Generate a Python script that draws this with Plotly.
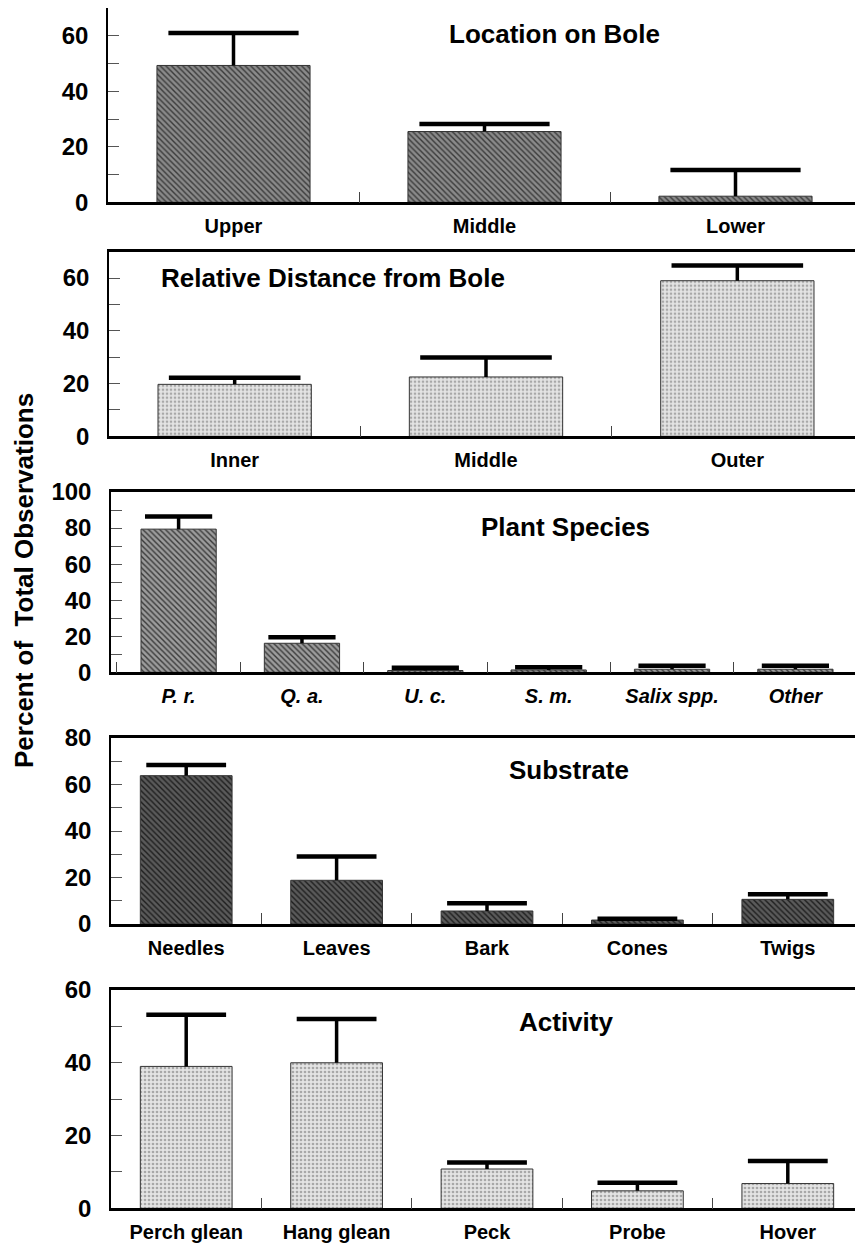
import plotly.graph_objects as go

# ---------------- data ----------------
bole_cats = ["Upper", "Middle", "Lower"]
bole_vals = [49.3, 25.5, 2.2]
bole_err = [11.7, 2.7, 9.4]

dist_cats = ["Inner", "Middle", "Outer"]
dist_vals = [19.7, 22.5, 59.0]
dist_err = [2.5, 7.4, 5.8]

plant_cats = ["P. r.", "Q. a.", "U. c.", "S. m.", "Salix spp.", "Other"]
plant_vals = [79.4, 16.1, 1.0, 1.3, 1.7, 1.7]
plant_err = [7.0, 3.3, 1.5, 1.5, 2.0, 2.0]

sub_cats = ["Needles", "Leaves", "Bark", "Cones", "Twigs"]
sub_vals = [63.8, 18.8, 5.6, 1.7, 10.6]
sub_err = [4.6, 10.2, 3.3, 0.6, 2.2]

act_cats = ["Perch glean", "Hang glean", "Peck", "Probe", "Hover"]
act_vals = [39.0, 40.0, 10.8, 4.8, 6.8]
act_err = [14.2, 12.0, 1.8, 2.2, 6.2]

titles = ["Location on Bole", "Relative Distance from Bole", "Plant Species",
          "Substrate", "Activity"]
y_title = "Percent of  Total Observations"

# ---------------- style / layout ----------------
# The page body adds an 8 px offset; the figure is sized so that its
# content lands at the reference pixel positions in an 863x1245 window.
SCREEN_W, SCREEN_H = 863, 1245
OFF = 8
W, H = SCREEN_W - OFF, SCREEN_H - OFF
FONT = "Liberation Sans, Arial, sans-serif"


def fx(px):
    return min(max((px - OFF) / W, 0.0), 1.0)


def fy(py):
    return min(max(1 - (py - OFF) / H, 0.0), 1.0)


panels = [
    dict(cats=bole_cats, vals=bole_vals, err=bole_err, ymax=70, dtick=20,
         ytop=7, ybot=202.3, xl=108, xr=861, mirror_y=True, cap=93,
         bg="#8a8a8a", fg="#3a3a3a", shape="\\", title_xy=(554, 34), italic=False),
    dict(cats=dist_cats, vals=dist_vals, err=dist_err, ymax=70, dtick=20,
         ytop=251.7, ybot=436.3, xl=109, xr=863, mirror_y=False, cap=94,
         bg="#e4e4e4", fg="#a8a8a8", shape=".", title_xy=(333, 278), italic=False),
    dict(cats=plant_cats, vals=plant_vals, err=plant_err, ymax=100, dtick=20,
         ytop=492, ybot=672.3, xl=111, xr=863, mirror_y=False, cap=48,
         bg="#9c9c9c", fg="#3a3a3a", shape="\\", title_xy=(565, 527), italic=True),
    dict(cats=sub_cats, vals=sub_vals, err=sub_err, ymax=80, dtick=20,
         ytop=738, ybot=924, xl=111, xr=863, mirror_y=False, cap=57,
         bg="#5a5a5a", fg="#1e1e1e", shape="\\", title_xy=(569, 770), italic=False),
    dict(cats=act_cats, vals=act_vals, err=act_err, ymax=60, dtick=20,
         ytop=990, ybot=1208.3, xl=111, xr=863, mirror_y=False, cap=57,
         bg="#e4e4e4", fg="#a8a8a8", shape=".", title_xy=(566, 1022), italic=False),
]

fig = go.Figure()
layout = dict(
    template="none",
    width=W, height=H, autosize=False,
    margin=dict(l=0, r=0, t=0, b=0, pad=0),
    paper_bgcolor="white", plot_bgcolor="white",
    showlegend=False, bargap=0.39,
    font=dict(family=FONT, color="black"),
    annotations=[],
)

for i, p in enumerate(panels, start=1):
    xa = "x" if i == 1 else f"x{i}"
    ya = "y" if i == 1 else f"y{i}"
    tops = [v + e for v, e in zip(p["vals"], p["err"])]
    fig.add_trace(go.Bar(
        x=p["cats"], y=p["vals"], xaxis=xa, yaxis=ya,
        marker=dict(color=p["bg"],
                    line=dict(color="#333333", width=1),
                    pattern=dict(shape=p["shape"], fgcolor=p["fg"], bgcolor=p["bg"],
                                 size=4, solidity=0.35)),
        error_y=dict(type="data", symmetric=False, array=p["err"],
                     arrayminus=[0] * len(p["err"]), width=0,
                     thickness=3.5, color="black"),
        hoverinfo="skip",
    ))
    fig.add_trace(go.Scatter(
        x=p["cats"], y=tops, xaxis=xa, yaxis=ya, mode="markers",
        marker=dict(symbol="line-ew", size=p["cap"], color="black",
                    line=dict(color="black", width=4.5)),
        hoverinfo="skip", cliponaxis=False,
    ))

    xkey = "xaxis" if i == 1 else f"xaxis{i}"
    ykey = "yaxis" if i == 1 else f"yaxis{i}"
    ticktext = [f"<i>{c}</i>" for c in p["cats"]] if p["italic"] else p["cats"]
    layout[xkey] = dict(
        domain=[fx(p["xl"]), fx(p["xr"])],
        anchor=ya, type="category", automargin=False,
        categoryorder="array", categoryarray=p["cats"],
        tickmode="array", tickvals=p["cats"], ticktext=ticktext,
        tickson="boundaries", ticks="inside", ticklen=11, tickwidth=1,
        tickcolor="#444444",
        showline=True, linecolor="black", linewidth=2.5,
        mirror=True, showgrid=False, zeroline=False,
        tickfont=dict(family=FONT, size=20, color="black", weight="bold"),
        ticklabelstandoff=4,
    )
    layout[ykey] = dict(
        domain=[fy(p["ybot"]), fy(p["ytop"])],
        anchor=xa, range=[0, p["ymax"]], automargin=False,
        tickmode="linear", tick0=0, dtick=p["dtick"],
        ticks="inside", ticklen=11, tickwidth=1, tickcolor="#555555",
        minor=dict(dtick=10, ticks="inside", ticklen=11, tickwidth=1,
                   tickcolor="#555555", showgrid=False),
        showline=True, linecolor="black", linewidth=1.5,
        mirror=p["mirror_y"], showgrid=False, zeroline=False,
        tickfont=dict(family=FONT, size=24, color="black", weight="bold"),
        ticklabelstandoff=13,
    )
    tx, ty = p["title_xy"]
    layout["annotations"].append(dict(
        text=titles[i - 1], x=fx(tx), y=fy(ty), xref="paper", yref="paper",
        xanchor="center", yanchor="middle", showarrow=False,
        font=dict(family=FONT, size=26, color="black", weight="bold"),
    ))

layout["annotations"].append(dict(
    text=y_title, x=fx(24), y=fy(581), xref="paper", yref="paper",
    xanchor="center", yanchor="middle", textangle=-90, showarrow=False,
    font=dict(family=FONT, size=26, color="black", weight="bold"),
))

fig.update_layout(**layout)
fig.write_html("out.html")
